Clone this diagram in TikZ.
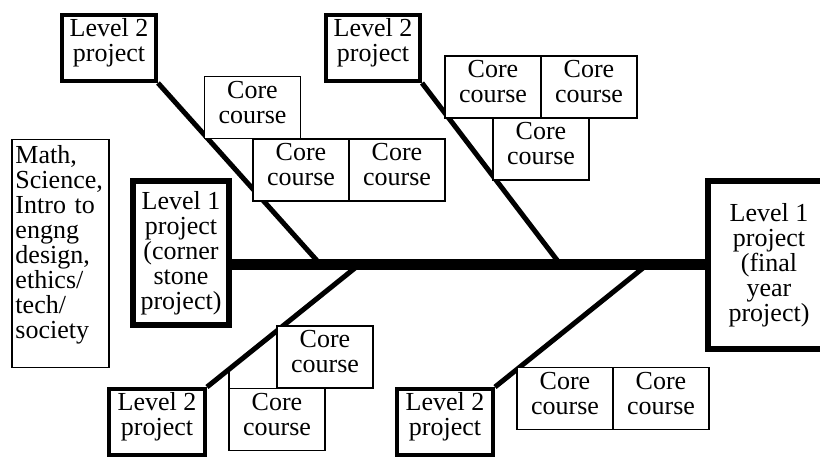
\documentclass[tikz,border=0pt]{standalone}
\usepackage{fontspec}
\setmainfont{Liberation Serif}
\usetikzlibrary{positioning}
\pgfdeclarelayer{background}
\pgfsetlayers{background,main}

\begin{document}
\begin{tikzpicture}[x=1pt,y=-1pt,
	every node/.style={font=\fontsize{26}{25}\selectfont,align=center,fill=white,inner sep=0pt},
	levelone/.style={draw,line width=6pt,minimum width=96pt,minimum height=144pt},
	leveltwo/.style={draw,line width=4pt,minimum width=94pt,minimum height=66pt,text depth=17pt},
	core/.style={draw,line width=1.5pt,outer sep=0pt,minimum width=96pt,minimum height=62pt,text depth=11pt},
	bone/.style={line width=5pt},
	spine/.style={line width=11pt}]
	\useasboundingbox (0,0) rectangle (820,457);

	% first year block and the two level 1 projects
	\node[draw,line width=1.5pt,align=left,text width=90pt,minimum width=97pt,minimum height=228pt,text depth=199pt] (basics) at (60.5,253.5)
		{Math,\\Science,\\Intro to\\engng\\design,\\ethics/\\tech/\\society};
	\node[levelone] (cornerstone) at (181,253) {Level 1\\project\\(corner\\stone\\project)};
	\node[levelone,minimum width=122pt,minimum height=168pt] (finalyear) at (769,265) {Level 1\\project\\(final\\year\\project)};

	% level 2 projects
	\node[leveltwo] (lvtwoA) at (109,48) {Level 2\\project};
	\node[leveltwo] (lvtwoB) at (373,48) {Level 2\\project};
	\node[leveltwo,minimum width=96pt] (lvtwoC) at (157,422) {Level 2\\project};
	\node[leveltwo,minimum width=96pt] (lvtwoD) at (445,422) {Level 2\\project};

	% core courses
	\node[core] (coreA) at (252.5,107.5) {Core\\course};
	\node[core] (coreB) at (301,170) {Core\\course};
	\node[core,right=0pt of coreB] (coreC) {Core\\course};
	\node[core] (coreD) at (493,87) {Core\\course};
	\node[core,right=0pt of coreD] (coreE) {Core\\course};
	\node[core,below=0pt of coreD.south east] (coreF) {Core\\course};
	\node[core] (coreG) at (325,357) {Core\\course};
	\node[core] (coreH) at (277,419.5) {Core\\course};
	\node[core] (coreI) at (565,398.5) {Core\\course};
	\node[core,right=0pt of coreI] (coreJ) {Core\\course};

	\coordinate (jA) at (320,264);
	\coordinate (jB) at (560,264);
	\coordinate (jC) at (360,264);
	\coordinate (jD) at (648,264);
	\coordinate (stub) at (229,371);

	\begin{pgfonlayer}{background}
		\draw[spine] (cornerstone.east |- finalyear.west) -- (finalyear.west);
		\draw[bone] (lvtwoA.south east) -- (jA);
		\draw[bone] (lvtwoB.south east) -- (jB);
		\draw[bone] (lvtwoC.north east) -- (jC);
		\draw[bone] (lvtwoD.north east) -- (jD);
		\draw[line width=1.5pt] (stub) -- (coreH.north west);
	\end{pgfonlayer}
\end{tikzpicture}
\end{document}
